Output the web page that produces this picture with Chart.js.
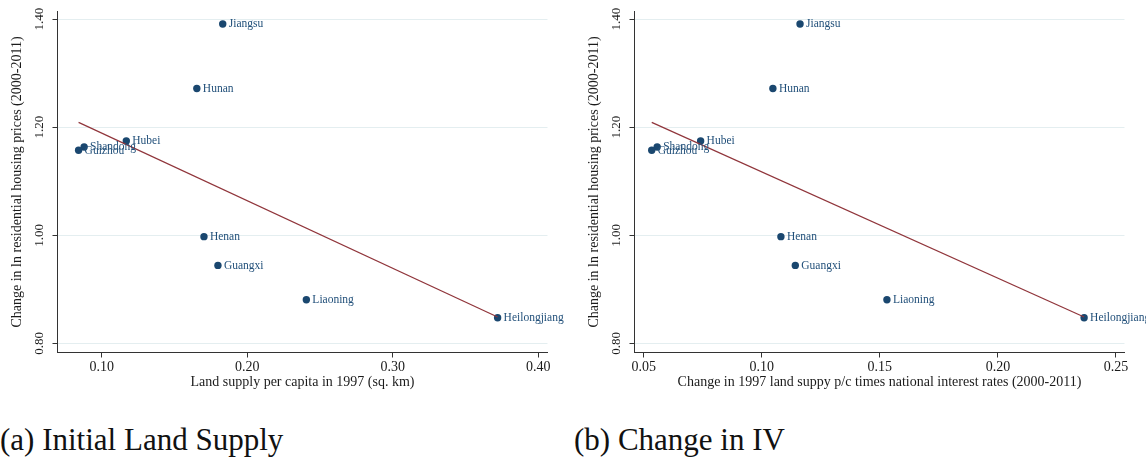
<!DOCTYPE html>
<html>
<head>
<meta charset="utf-8">
<script src="https://cdn.jsdelivr.net/npm/chart.js@4.4.0/dist/chart.umd.min.js"></script>
<style>
  body { margin: 0; background: #fff; width: 1146px; height: 460px; position: relative; overflow: hidden;
         font-family: "Liberation Serif", "DejaVu Serif"; }
  .panel { position: absolute; top: 0; }
  .caption { position: absolute; top: 424px; font-size: 31px; line-height: 31px; color: #111; white-space: nowrap; }
</style>
</head>
<body>
<canvas id="landChart" class="panel" width="573" height="400" style="left:0"></canvas>
<canvas id="ivChart" class="panel" width="573" height="400" style="left:573px"></canvas>
<div class="caption" style="left:0">(a) Initial Land Supply</div>
<div class="caption" style="left:574px">(b) Change in IV</div>
<script>
// provinces, shared outcome and the two regressors
const provinces = ["Jiangsu", "Hunan", "Hubei", "Shandong", "Guizhou", "Henan", "Guangxi", "Liaoning", "Heilongjiang"];
const priceChange = [1.391, 1.2715, 1.1746, 1.1635, 1.1574, 0.9976, 0.9444, 0.881, 0.8476];
const landSupply97 = [0.1831, 0.1653, 0.1168, 0.0878, 0.084, 0.1702, 0.1798, 0.2406, 0.3721];
const ivChange = [0.1162, 0.1047, 0.0741, 0.0557, 0.0534, 0.1081, 0.1142, 0.153, 0.2365];

// fitted line end points
const landFitX = [0.084, 0.3721];
const ivFitX = [0.0534, 0.2365];
const fitY = [1.209, 0.849];

const priceTicks = [0.8, 1.0, 1.2, 1.4];
const landTicks = [0.1, 0.2, 0.3, 0.4];
const ivTicks = [0.05, 0.1, 0.15, 0.2, 0.25];

const yTitle = "Change in ln residential housing prices (2000-2011)";
const serif = '"Liberation Serif", "DejaVu Serif"';
const navy = "#1a476f";

// rotated y tick labels, axis titles and province names
const annotate = {
  id: "annotate",
  afterDatasetsDraw(chart) {
    const ctx = chart.ctx;
    const meta = chart.getDatasetMeta(1);
    ctx.save();
    ctx.font = "11.5px " + serif;
    ctx.fillStyle = "#22507a";
    ctx.textBaseline = "middle";
    meta.data.forEach((pt, i) => ctx.fillText(provinces[i], pt.x + 6, pt.y + 0.5));
    ctx.restore();
  },
  afterDraw(chart, args, opts) {
    const { ctx, chartArea, scales } = chart;
    const y = scales.y;
    ctx.save();
    ctx.fillStyle = "#1b1b1b";
    ctx.textAlign = "center";
    ctx.textBaseline = "middle";
    ctx.font = "13px " + serif;
    priceTicks.forEach(v => {
      ctx.save();
      ctx.translate(chartArea.left - 17.5, y.getPixelForValue(v));
      ctx.rotate(-Math.PI / 2);
      ctx.fillText(v.toFixed(2), 0, 0);
      ctx.restore();
    });
    ctx.font = "14px " + serif;
    ctx.save();
    ctx.translate(chartArea.left - 40.5, (chartArea.top + chartArea.bottom) / 2);
    ctx.rotate(-Math.PI / 2);
    ctx.fillText(yTitle, 0, 0);
    ctx.restore();
    ctx.fillText(opts.xTitle, (chartArea.left + chartArea.right) / 2, chartArea.bottom + 30);
    ctx.restore();
  }
};

function makeChart(id, xs, fitX, xTicks, xMin, xMax, xTitle, yWidth, padRight) {
  return new Chart(document.getElementById(id), {
    type: "scatter",
    data: {
      datasets: [
        {
          type: "line",
          data: fitX.map((x, i) => ({ x, y: fitY[i] })),
          borderColor: "#90353b",
          borderWidth: 1.2,
          pointRadius: 0,
          fill: false,
          order: 0
        },
        {
          data: xs.map((x, i) => ({ x, y: priceChange[i] })),
          backgroundColor: navy,
          borderWidth: 0,
          pointRadius: 3.7,
          clip: false,
          order: 1
        }
      ]
    },
    options: {
      responsive: false,
      animation: false,
      layout: { padding: { top: 11.5, right: padRight, left: 0, bottom: 0 } },
      plugins: {
        legend: { display: false },
        tooltip: { enabled: false },
        annotate: { xTitle }
      },
      scales: {
        x: {
          type: "linear",
          min: xMin,
          max: xMax,
          afterBuildTicks: s => { s.ticks = xTicks.map(value => ({ value })); },
          afterFit: s => { s.height = 47.5; },
          grid: { drawOnChartArea: false, tickLength: 5, tickColor: "#333", color: "#333" },
          border: { color: "#333", width: 1 },
          ticks: {
            padding: 1,
            color: "#1b1b1b",
            font: { family: serif, size: 14 },
            maxRotation: 0,
            callback: v => v.toFixed(2)
          }
        },
        y: {
          type: "linear",
          min: 0.7833,
          max: 1.414,
          afterBuildTicks: s => { s.ticks = priceTicks.map(value => ({ value })); },
          afterFit: s => { s.width = yWidth; },
          grid: { color: "#e4eef0", lineWidth: 1, tickLength: 5, tickColor: "#333" },
          border: { color: "#333", width: 1 },
          ticks: { display: false }
        }
      }
    },
    plugins: [annotate]
  });
}

makeChart("landChart", landSupply97, landFitX, landTicks, 0.0695, 0.4064,
  "Land supply per capita in 1997 (sq. km)", 57.5, 25.5);
makeChart("ivChart", ivChange, ivFitX, ivTicks, 0.0461, 0.2536,
  "Change in 1997 land suppy p/c times national interest rates (2000-2011)", 61.5, 21.5);
</script>
</body>
</html>
